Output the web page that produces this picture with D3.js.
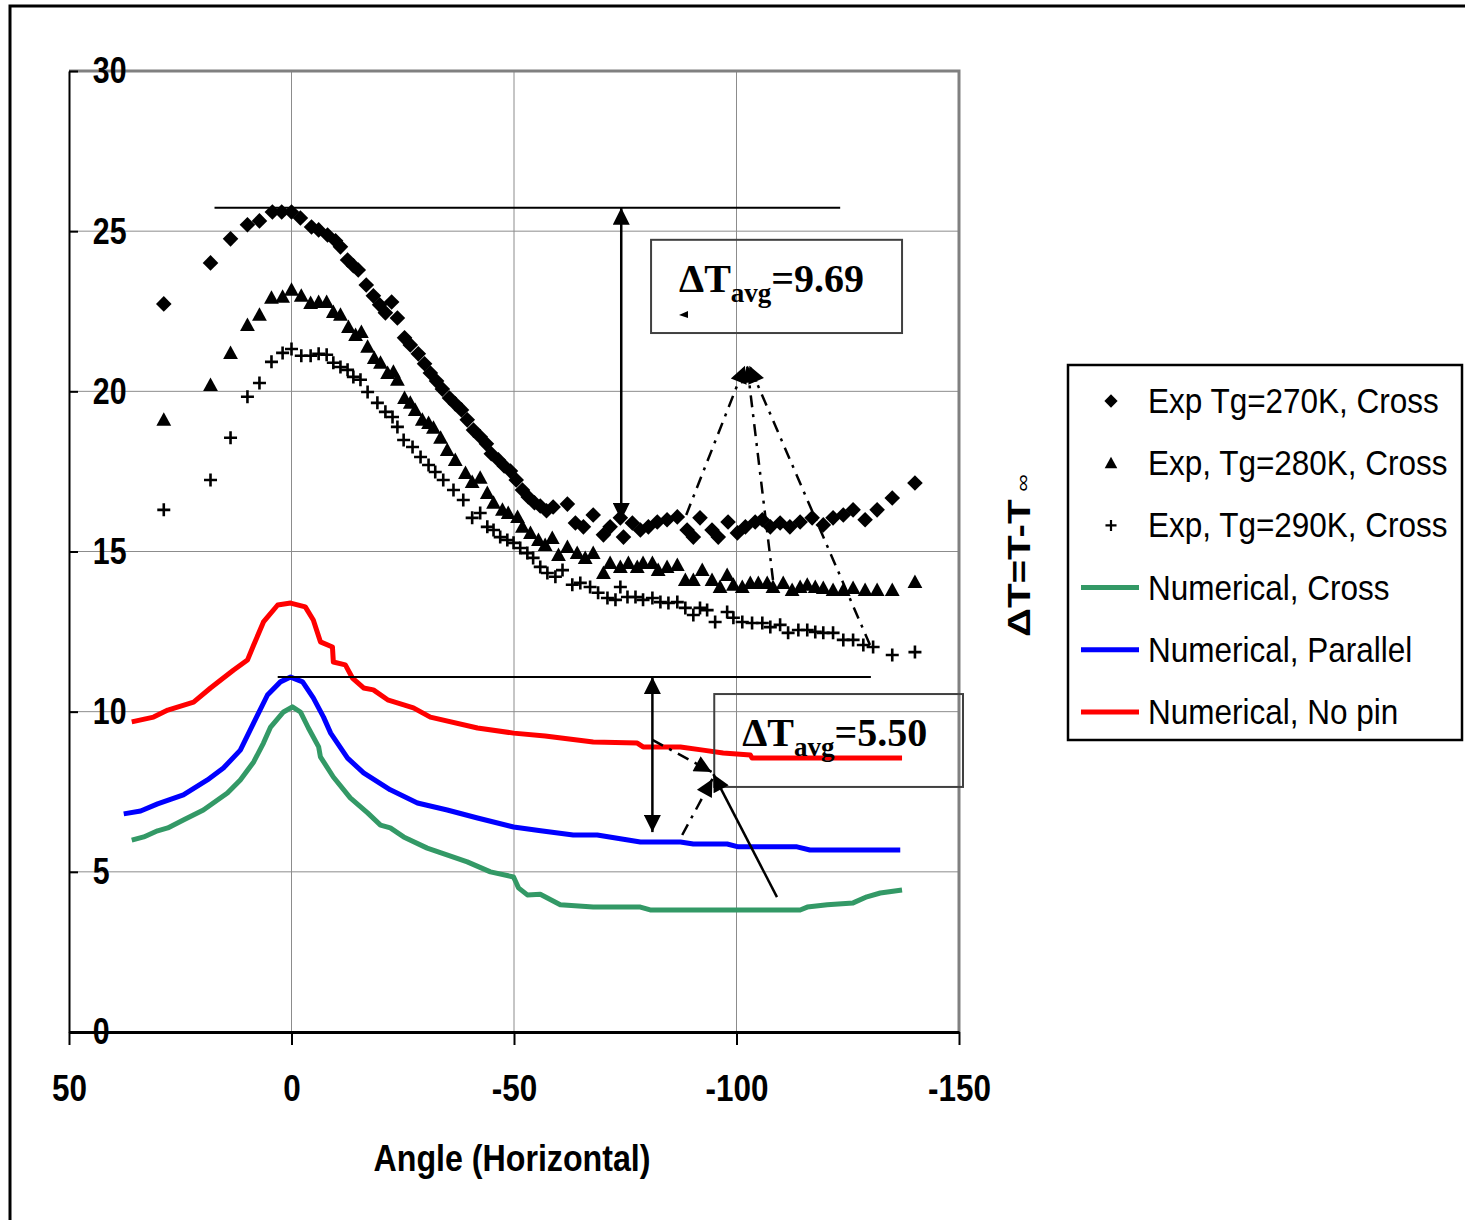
<!DOCTYPE html>
<html>
<head>
<meta charset="utf-8">
<script src="https://cdn.jsdelivr.net/npm/d3@7"></script>
<style>
body { margin: 0; background: #fff; }
</style>
</head>
<body>
<div id="chart"></div>
<script>
// angle (deg), dT (K)
const exp270 = [[28.7,22.73],[18.2,24.01],[13.7,24.76],[9.9,25.2],[7.2,25.32],[4.3,25.6],[2.2,25.6],[0,25.6],[-2,25.41],[-4.5,25.13],[-6.1,25.04],[-8.1,24.88],[-9.9,24.7],[-11,24.51],[-12.6,24.1],[-13.9,23.92],[-15,23.79],[-16.8,23.32],[-18.4,22.98],[-19.8,22.7],[-21.1,22.45],[-22.5,22.79],[-23.8,22.29],[-25.4,21.67],[-26.7,21.45],[-28.5,21.17],[-29.9,20.86],[-31.2,20.57],[-32.6,20.32],[-33.9,20.07],[-35.5,19.79],[-36.8,19.61],[-38.2,19.42],[-39.5,19.11],[-40.9,18.79],[-42.4,18.58],[-43.8,18.36],[-44.9,18.05],[-46.5,17.86],[-47.8,17.67],[-49.2,17.51],[-50.5,17.23],[-51.9,16.92],[-53.2,16.7],[-54.6,16.52],[-55.9,16.42],[-57.3,16.27],[-58.8,16.39],[-62,16.48],[-63.8,15.89],[-65.6,15.77],[-67.8,16.14],[-70.1,15.52],[-71.6,15.77],[-73.9,16.05],[-74.6,15.45],[-76.6,15.89],[-78.4,15.67],[-80.2,15.77],[-82.2,15.92],[-84.4,15.99],[-86.7,16.08],[-88.9,15.67],[-90.3,15.45],[-91.8,16.05],[-94.5,15.67],[-95.9,15.45],[-98.1,15.92],[-100.2,15.58],[-102,15.77],[-104.2,15.92],[-105.8,15.99],[-107.6,15.77],[-109.8,15.89],[-112,15.77],[-114.3,15.92],[-117,16.05],[-119.5,15.83],[-121.7,16.05],[-124,16.14],[-126.2,16.3],[-128.9,15.99],[-131.6,16.3],[-135,16.67],[-140.1,17.14]];

const exp280 = [[28.7,19.11],[18.2,20.2],[13.7,21.2],[9.9,22.07],[7.2,22.39],[4.5,22.92],[2,22.95],[0,23.17],[-2.2,22.98],[-4.3,22.76],[-6.1,22.79],[-7.9,22.79],[-9.4,22.48],[-11,22.39],[-12.8,22.01],[-14.4,21.76],[-15.7,21.85],[-17.1,21.39],[-18.6,21.04],[-20,20.89],[-21.6,20.57],[-22.9,20.61],[-23.8,20.36],[-25.4,19.79],[-26.7,19.64],[-27.8,19.42],[-29.4,19.11],[-30.8,19.01],[-31.9,18.86],[-33.5,18.55],[-35,18.17],[-36.8,17.86],[-39.1,17.45],[-40.6,17.17],[-42.4,17.3],[-44,16.83],[-45.4,16.52],[-47.4,16.3],[-48.7,16.2],[-50.8,16.08],[-51.9,15.77],[-53.7,15.58],[-55.5,15.36],[-57,15.2],[-58.6,15.42],[-60,14.89],[-62,15.14],[-64.2,14.95],[-66,14.8],[-67.8,14.95],[-70.1,14.33],[-71.6,14.64],[-73.9,14.52],[-75.7,14.64],[-77.7,14.52],[-79,14.64],[-81.1,14.64],[-82.4,14.42],[-84.4,14.52],[-86.7,14.58],[-88.5,14.11],[-90.3,14.11],[-92.3,14.42],[-94.5,14.11],[-96.3,13.89],[-97.9,14.27],[-99.3,13.96],[-101.3,13.89],[-103.1,14.02],[-104.9,14.02],[-106.9,14.02],[-108.2,13.89],[-110.5,14.02],[-112.5,13.8],[-114.3,13.89],[-115.9,13.96],[-117.7,13.89],[-119.5,13.86],[-121.7,13.8],[-124,13.8],[-126.2,13.86],[-128.9,13.8],[-131.6,13.8],[-135,13.8],[-140.1,14.05]];

const exp290 = [[28.7,16.3],[18.2,17.23],[13.7,18.55],[9.9,19.83],[7.2,20.26],[4.5,20.92],[2,21.2],[0,21.32],[-2.2,21.11],[-4.3,21.11],[-6.1,21.17],[-7.9,21.14],[-9.4,20.89],[-11,20.76],[-12.6,20.67],[-13.9,20.45],[-15.5,20.36],[-17.1,19.98],[-19.3,19.64],[-21.1,19.36],[-22.7,19.2],[-23.8,18.89],[-25.2,18.48],[-27.2,18.26],[-29,17.95],[-30.8,17.7],[-32.3,17.48],[-34.1,17.23],[-36.4,16.92],[-38.6,16.61],[-40.6,16.05],[-42.4,16.2],[-44,15.77],[-45.4,15.67],[-46.9,15.45],[-48.5,15.36],[-49.9,15.27],[-51.4,15.11],[-53,14.95],[-54.3,14.8],[-55.9,14.52],[-57.5,14.33],[-59.3,14.21],[-60.9,14.42],[-63.1,13.96],[-64.9,14.02],[-67.1,13.89],[-68.9,13.71],[-71,13.55],[-72.8,13.49],[-73.9,13.89],[-75.5,13.58],[-77.3,13.58],[-79,13.49],[-81.1,13.55],[-82.9,13.42],[-84.7,13.39],[-86.7,13.42],[-88.5,13.24],[-90.3,13.02],[-91.8,13.24],[-93.4,13.17],[-95.2,12.8],[-97.9,13.11],[-99.3,12.93],[-101.3,12.8],[-103.5,12.77],[-105.8,12.77],[-107.6,12.64],[-109.8,12.71],[-111.6,12.46],[-113.9,12.55],[-115.9,12.55],[-117.7,12.49],[-119.5,12.46],[-121.7,12.46],[-124,12.24],[-126.2,12.24],[-128.5,12.08],[-130.7,12.02],[-135,11.77],[-140.1,11.86]];

const numCross = [[35.9,5.99],[33.2,6.09],[30.1,6.28],[27.8,6.37],[24.3,6.62],[19.8,6.93],[14.4,7.46],[11.5,7.87],[8.5,8.43],[6.3,9.02],[4.7,9.52],[1.8,9.99],[-0.2,10.15],[-2,9.99],[-3.8,9.49],[-6.1,8.9],[-6.5,8.59],[-9.4,7.96],[-13.2,7.31],[-17.1,6.84],[-20,6.46],[-22.2,6.37],[-25.2,6.09],[-30.5,5.74],[-36.4,5.46],[-39.5,5.31],[-44.7,5],[-49.9,4.84],[-51,4.5],[-53,4.28],[-55.9,4.3],[-60.4,3.97],[-67.8,3.9],[-78.4,3.9],[-80.6,3.81],[-114.3,3.81],[-115.9,3.9],[-120.4,3.97],[-126.2,4.03],[-129.3,4.22],[-132.3,4.34],[-137.2,4.43]];

const numParallel = [[37.7,6.81],[33.9,6.9],[30.1,7.12],[24.3,7.4],[18.9,7.87],[15.3,8.24],[11.5,8.8],[8.5,9.65],[5.4,10.52],[2.5,10.93],[0.2,11.08],[-2.5,10.93],[-4.9,10.43],[-7.2,9.83],[-8.8,9.33],[-12.6,8.55],[-16.2,8.09],[-22.2,7.56],[-28.3,7.15],[-35,6.93],[-41.8,6.68],[-49.9,6.4],[-56,6.28],[-63.3,6.15],[-68.7,6.15],[-78.4,5.93],[-87.4,5.93],[-90.3,5.87],[-97.9,5.87],[-100.4,5.78],[-113.6,5.78],[-116.5,5.68],[-136.8,5.68]];

const numNoPin = [[35.9,9.68],[31,9.83],[27.8,10.05],[22,10.3],[18.2,10.74],[15.9,10.99],[13,11.3],[9.9,11.61],[8.5,12.08],[6.3,12.8],[3.1,13.33],[0.2,13.39],[-3.1,13.27],[-4.9,12.86],[-6.5,12.18],[-9.2,12.02],[-9.4,11.55],[-12.1,11.46],[-13.7,11.05],[-16.2,10.74],[-18.4,10.68],[-21.6,10.37],[-27.4,10.12],[-31.2,9.83],[-41.8,9.49],[-49.9,9.33],[-57,9.24],[-67.8,9.05],[-77.7,9.02],[-79,8.9],[-87.4,8.9],[-92.5,8.8],[-97,8.71],[-103.1,8.65],[-103.5,8.55],[-137.2,8.55]];

const xTicks = [50, 0, -50, -100, -150];
const yTicks = [0, 5, 10, 15, 20, 25, 30];
const legendLabels = ["Exp Tg=270K, Cross", "Exp, Tg=280K, Cross", "Exp, Tg=290K, Cross",
                      "Numerical, Cross", "Numerical, Parallel", "Numerical, No pin"];
const lineColors = ["#339966", "#0000ff", "#ff0000"];

var width = 1465, height = 1220;
var margin = { top: 71, right: 506, bottom: 188, left: 69 };

var svg = d3.select("#chart").append("svg")
    .attr("width", width)
    .attr("height", height)
    .style("font-family", "'Liberation Sans', Arial, sans-serif");

// arrowhead marker
svg.append("defs").append("marker")
    .attr("id", "head")
    .attr("viewBox", "0 0 10 10")
    .attr("refX", 10).attr("refY", 5)
    .attr("markerUnits", "userSpaceOnUse")
    .attr("markerWidth", 22).attr("markerHeight", 17)
    .attr("orient", "auto-start-reverse")
    .append("path").attr("d", "M0,0L10,5L0,10Z").attr("fill", "#000");

// outer frame
svg.append("path")
    .attr("d", "M10,1220V6H1465")
    .attr("fill", "none").attr("stroke", "#000").attr("stroke-width", 3);

var x = d3.scaleLinear().domain([50, -150]).range([margin.left, width - margin.right]);
var y = d3.scaleLinear().domain([0, 30]).range([height - margin.bottom, margin.top]);

// grid
svg.append("g").selectAll("line").data(yTicks.slice(1, -1)).join("line")
    .attr("x1", x(50)).attr("x2", x(-150))
    .attr("y1", d => y(d)).attr("y2", d => y(d))
    .attr("stroke", "#8c8c8c").attr("stroke-width", 1);
svg.append("g").selectAll("line").data(xTicks.slice(1, -1)).join("line")
    .attr("x1", d => x(d)).attr("x2", d => x(d))
    .attr("y1", y(0)).attr("y2", y(30))
    .attr("stroke", "#8c8c8c").attr("stroke-width", 1);

// plot area border (top/right grey)
svg.append("path")
    .attr("d", `M${x(50)},${y(30)}H${x(-150)}V${y(0)}`)
    .attr("fill", "none").attr("stroke", "#808080").attr("stroke-width", 3);

// y axis (labels sit inside the plot)
var yAxis = svg.append("g")
    .attr("transform", `translate(${x(50)},0)`)
    .call(d3.axisLeft(y).tickValues(yTicks).tickSize(-9).tickSizeOuter(0));
yAxis.select(".domain").attr("stroke", "#000").attr("stroke-width", 2);
yAxis.selectAll(".tick line").attr("stroke", "#000").attr("stroke-width", 2);
yAxis.selectAll("text")
    .attr("x", 29)
    .attr("text-anchor", "start")
    .attr("transform", "scale(0.82,1)")
    .attr("fill", "#000")
    .style("font-size", "37px")
    .style("font-weight", "bold")
    .style("font-family", "inherit");

// x axis
var xAxis = svg.append("g")
    .attr("transform", `translate(0,${y(0)})`)
    .call(d3.axisBottom(x).tickValues(xTicks).tickSize(13).tickSizeOuter(0).tickFormat(d => String(d)));
xAxis.select(".domain").attr("stroke", "#000").attr("stroke-width", 3);
xAxis.selectAll(".tick line").attr("stroke", "#000").attr("stroke-width", 2);
xAxis.selectAll("text")
    .attr("y", 43)
    .attr("transform", "scale(0.85,1)")
    .attr("fill", "#000")
    .style("font-size", "37px")
    .style("font-weight", "bold")
    .style("font-family", "inherit");

svg.append("text")
    .attr("transform", `translate(${(x(50) + x(-150)) / 2 - 2},1171) scale(0.87,1)`)
    .attr("text-anchor", "middle")
    .style("font-size", "37px").style("font-weight", "bold")
    .text("Angle (Horizontal)");

// y title (on the right side)
var yt = svg.append("text")
    .attr("transform", "translate(1030,637) rotate(-90) scale(1.3,1)")
    .style("font-size", "31px").style("font-weight", "bold");
yt.append("tspan").text("ΔT=T-T");
yt.append("tspan").attr("dx", 6).attr("dy", -1).style("font-size", "19px").style("font-weight", "normal").text("∞");

// numerical lines
var line = d3.line().x(d => x(d[0])).y(d => y(d[1]));
[numCross, numParallel, numNoPin].forEach((s, i) => {
    svg.append("path").datum(s)
        .attr("d", line)
        .attr("fill", "none")
        .attr("stroke", lineColors[i])
        .attr("stroke-width", 5)
        .attr("stroke-linejoin", "round");
});

// experimental markers
var diamond = "M0,-7.8L7.8,0L0,7.8L-7.8,0Z";
var triangle = "M0,-7.5L7.4,6L-7.4,6Z";
var plus = "M-6.5,0H6.5M0,-6.5V6.5";

function drawMarkers(data, shape, filled) {
    svg.append("g").selectAll("path").data(data).join("path")
        .attr("transform", d => `translate(${x(d[0])},${y(d[1])})`)
        .attr("d", shape)
        .attr("fill", filled ? "#000" : "none")
        .attr("stroke", filled ? "none" : "#000")
        .attr("stroke-width", 2.6);
}
drawMarkers(exp270, diamond, true);
drawMarkers(exp280, triangle, true);
drawMarkers(exp290, plus, false);

// annotations (in data units)
function hline(v, a0, a1) {
    svg.append("line")
        .attr("x1", x(a0)).attr("x2", x(a1)).attr("y1", y(v)).attr("y2", y(v))
        .attr("stroke", "#000").attr("stroke-width", 2);
}
function arrow(a0, v0, a1, v1, dashed, both) {
    svg.append("line")
        .attr("x1", x(a0)).attr("y1", y(v0)).attr("x2", x(a1)).attr("y2", y(v1))
        .attr("stroke", "#000").attr("stroke-width", 2.5)
        .attr("stroke-dasharray", dashed ? "12,7,3,7" : null)
        .attr("marker-end", "url(#head)")
        .attr("marker-start", both ? "url(#head)" : null);
}
function box(a0, v0, a1, v1, label, sub, value) {
    svg.append("rect")
        .attr("x", x(a0)).attr("y", y(v0))
        .attr("width", x(a1) - x(a0)).attr("height", y(v1) - y(v0))
        .attr("fill", "none").attr("stroke", "#404040").attr("stroke-width", 2);
    var t = svg.append("text")
        .attr("x", x(a0) + 28).attr("y", y(v0) + 52)
        .style("font-family", "'Liberation Serif', 'Times New Roman', serif")
        .style("font-weight", "bold").style("font-size", "40px");
    t.append("tspan").text(label);
    t.append("tspan").attr("dy", 10).style("font-size", "27px").text(sub);
    t.append("tspan").attr("dy", -10).text(value);
}

hline(25.73, 17.3, -123.3);
arrow(-74.1, 15.98, -74.1, 25.73, false, true);
box(-80.8, 24.73, -137.2, 21.82, "ΔT", "avg", "=9.69");
svg.append("path")
    .attr("transform", `translate(${x(-88.2)},${y(22.38)})`)
    .attr("d", "M-5,0L4,-4L4,3Z").attr("fill", "#000");

arrow(-88.7, 16.14, -101.9, 20.8, true, false);
arrow(-108.2, 14.11, -102.4, 20.8, true, false);
arrow(-130.0, 12.08, -102.9, 20.8, true, false);

hline(11.08, 3.1, -130.2);
arrow(-81.1, 6.24, -81.1, 11.08, false, true);
box(-95.0, 10.55, -150.9, 7.65, "ΔT", "avg", "=5.50");
arrow(-109.1, 4.21, -94.8, 8.05, false, false);
arrow(-81.1, 9.12, -94.4, 8.12, true, false);
arrow(-87.8, 6.15, -94.6, 7.9, true, false);

// legend
var lg = svg.append("g");
lg.append("rect")
    .attr("x", 1068).attr("y", 365).attr("width", 394).attr("height", 375)
    .attr("fill", "#fff").attr("stroke", "#000").attr("stroke-width", 2.5);
var rows = lg.selectAll("g.row").data(legendLabels).join("g")
    .attr("transform", (d, i) => `translate(0,${401 + i * 62.2})`);
rows.append("text")
    .attr("transform", "translate(1148,12) scale(0.9,1)")
    .style("font-size", "35px")
    .text(d => d);
rows.filter((d, i) => i < 3).append("path")
    .attr("transform", "translate(1111,0) scale(0.85)")
    .attr("d", (d, i) => [diamond, triangle, plus][i])
    .attr("fill", (d, i) => i < 2 ? "#000" : "none")
    .attr("stroke", (d, i) => i < 2 ? "none" : "#000")
    .attr("stroke-width", 2.6);
rows.filter((d, i) => i >= 3).append("line")
    .attr("x1", 1081).attr("x2", 1139)
    .attr("stroke", (d, i) => lineColors[i])
    .attr("stroke-width", 5);
</script>
</body>
</html>
